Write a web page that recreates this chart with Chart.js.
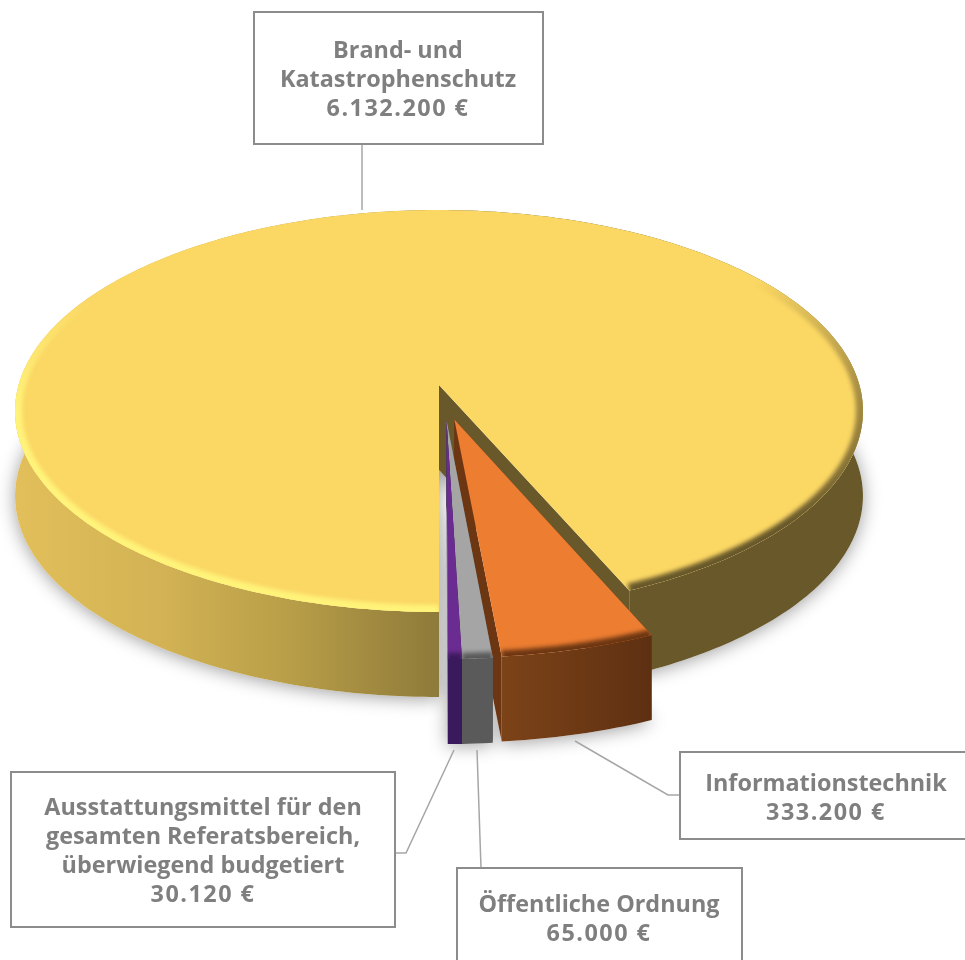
<!DOCTYPE html>
<html lang="de">
<head>
<meta charset="utf-8">
<title>Budget</title>
<script src="https://cdn.jsdelivr.net/npm/chart.js@4"></script>
<style>
  html, body { margin: 0; padding: 0; background: #fff; }
  canvas { display: block; }
</style>
</head>
<body>
<canvas id="myChart" width="965" height="960"></canvas>
<script>
// Data
const categories = ['Brand- und Katastrophenschutz', 'Informationstechnik', 'Öffentliche Ordnung', 'Ausstattungsmittel für den gesamten Referatsbereich, überwiegend budgetiert'];
const budget = [6132200, 333200, 65000, 30120];
const labelLines = [
    ['Brand- und', 'Katastrophenschutz'],
    ['Informationstechnik'],
    ['Öffentliche Ordnung'],
    ['Ausstattungsmittel für den', 'gesamten Referatsbereich,', 'überwiegend budgetiert']
];

// Look of the slices
const topColors = ['#fbd764', '#ec7d31', '#a5a5a5', '#6b2c91'];
const wallColors = ['#68582a', '#6c3612', '#636363', '#3f1c5e'];
const explode = [0, 74, 74, 74];
const sideShift = [0, -0.008, 0.007, 0.015];

// Label boxes and their leader lines
const boxes = [
    { x: 254, y: 12, w: 289, h: 132, cx: 398, first: 58, line: [[362, 144], [362, 210]] },
    { x: 680, y: 752, w: 295, h: 87, cx: 826, first: 791, line: [[575, 741], [668, 795], [680, 795]] },
    { x: 457, y: 868, w: 285, h: 110, cx: 599, first: 912, line: [[477, 750], [481, 868]] },
    { x: 11, y: 772, w: 384, h: 155, cx: 203, first: 815, line: [[454, 750], [406, 853], [395, 853]] }
];

// Tilted disc with a little perspective: u to the right, v towards the viewer
const cx = 439, cy = 385, discR = 420.4, tiltA = 197.6, persp = 0.1294, depth = 85;

function project(u, v, z) {
    const k = 1 - persp * v;
    return { x: cx + discR * u / k, y: cy + tiltA * v / k + (z || 0) };
}

// apex and rim of one arc element, on the disc
function sliceGeometry(el, i) {
    const mid = (el.startAngle + el.endAngle) / 2;
    const off = el.options.offset / discR;
    const ox = off * Math.cos(mid) + sideShift[i];
    const oy = off * Math.sin(mid);
    const steps = Math.max(4, Math.ceil((el.endAngle - el.startAngle) * 60));
    const rim = [];
    for (let s = 0; s <= steps; s++) {
        const a = el.startAngle + (el.endAngle - el.startAngle) * s / steps;
        rim.push({ u: ox + Math.cos(a), v: oy + Math.sin(a) });
    }
    return { apex: { u: ox, v: oy }, rim: rim };
}

function tracePoly(ctx, pts, open) {
    ctx.beginPath();
    pts.forEach((p, n) => n ? ctx.lineTo(p.x, p.y) : ctx.moveTo(p.x, p.y));
    if (!open) ctx.closePath();
}

function facePoints(g, z) {
    return [project(g.apex.u, g.apex.v, z)].concat(g.rim.map(p => project(p.u, p.v, z)));
}

function sideFill(ctx, i) {
    if (i === 0) {
        const grad = ctx.createLinearGradient(14, 0, 439, 0);
        grad.addColorStop(0, '#e2bf5a');
        grad.addColorStop(0.35, '#d2b254');
        grad.addColorStop(0.65, '#b89e48');
        grad.addColorStop(0.999, '#8e7a3a');
        grad.addColorStop(1, wallColors[0]);
        return grad;
    }
    if (i === 1) {
        const grad = ctx.createLinearGradient(500, 0, 650, 0);
        grad.addColorStop(0, '#7d4318');
        grad.addColorStop(1, '#5e3012');
        return grad;
    }
    return i === 2 ? '#5a5a5a' : '#3a1a5c';
}

// bevel colour round the rim: light on the left of the big slice, dark on its right
function bevelStyle(ctx, i) {
    if (i === 1) return '#6c3612';
    if (i === 2) return '#5a5a5a';
    if (i === 3) return '#3a1a5c';
    const grad = ctx.createConicGradient(0, cx, cy);
    grad.addColorStop(0, 'rgba(104,88,42,0.55)');
    grad.addColorStop(0.06, 'rgba(104,88,42,1)');
    grad.addColorStop(0.2499, 'rgba(104,88,42,1)');
    grad.addColorStop(0.25, 'rgba(255,243,122,1)');
    grad.addColorStop(0.49, 'rgba(255,243,122,1)');
    grad.addColorStop(0.54, 'rgba(255,243,122,0)');
    grad.addColorStop(0.95, 'rgba(104,88,42,0)');
    grad.addColorStop(1, 'rgba(104,88,42,0.55)');
    return grad;
}

function drawSlice(ctx, g, i) {
    const top = facePoints(g, 0);
    const apexTop = project(g.apex.u, g.apex.v, 0);
    const apexLow = project(g.apex.u, g.apex.v, depth);

    // cut walls
    ctx.fillStyle = wallColors[i];
    [g.rim[0], g.rim[g.rim.length - 1]].forEach(r => {
        tracePoly(ctx, [apexTop, project(r.u, r.v, 0), project(r.u, r.v, depth), apexLow]);
        ctx.fill();
    });

    // outer side
    const upper = g.rim.map(p => project(p.u, p.v, 0));
    const lower = g.rim.map(p => project(p.u, p.v, depth)).reverse();
    ctx.fillStyle = sideFill(ctx, i);
    tracePoly(ctx, upper.concat(lower));
    ctx.fill();

    // top face
    ctx.fillStyle = topColors[i];
    tracePoly(ctx, top);
    ctx.fill();

    // rim bevel, clipped to the face
    ctx.save();
    tracePoly(ctx, top);
    ctx.clip();
    ctx.filter = 'blur(2px)';
    ctx.lineWidth = i === 0 ? 14 : 12;
    ctx.lineCap = 'butt';
    ctx.strokeStyle = bevelStyle(ctx, i);
    tracePoly(ctx, upper, true);
    ctx.stroke();
    ctx.restore();
}

const pie3d = {
    id: 'pie3d',
    beforeDatasetsDraw(chart) {
        const ctx = chart.ctx;
        const geo = chart.getDatasetMeta(0).data.map(sliceGeometry);

        // soft shadow under the bottom of the slices
        ctx.save();
        ctx.shadowColor = 'rgba(0,0,0,0.38)';
        ctx.shadowBlur = 18;
        ctx.shadowOffsetY = 2;
        ctx.fillStyle = '#fff';
        geo.forEach(g => {
            tracePoly(ctx, facePoints(g, depth));
            ctx.fill();
        });
        ctx.restore();

        geo.forEach((g, i) => drawSlice(ctx, g, i));

        // label boxes
        ctx.save();
        boxes.forEach((box, i) => {
            ctx.strokeStyle = '#a6a6a6';
            ctx.lineWidth = 1.5;
            ctx.beginPath();
            box.line.forEach((p, n) => n ? ctx.lineTo(p[0], p[1]) : ctx.moveTo(p[0], p[1]));
            ctx.stroke();
            ctx.fillStyle = '#fff';
            ctx.fillRect(box.x, box.y, box.w, box.h);
            ctx.strokeStyle = '#8c8c8c';
            ctx.lineWidth = 2;
            ctx.strokeRect(box.x, box.y, box.w, box.h);
            ctx.fillStyle = '#7f7f7f';
            ctx.font = 'bold 23.4px "Open Sans"';
            ctx.textAlign = 'center';
            ctx.textBaseline = 'alphabetic';
            const lines = labelLines[i];
            lines.forEach((text, n) => {
                ctx.letterSpacing = '0px';
                ctx.fillText(text, box.cx, box.first + n * 29);
            });
            // the amounts run wider than the names
            ctx.letterSpacing = '1.5px';
            ctx.fillText(budget[i].toLocaleString('de-DE') + ' €', box.cx, box.first + lines.length * 29);
            ctx.letterSpacing = '0px';
        });
        ctx.restore();
        return false;
    }
};

const chartContent = new Chart(document.getElementById('myChart'), {
    type: 'pie',
    data: {
        labels: categories,
        datasets: [{ data: budget, backgroundColor: topColors, offset: explode, borderWidth: 0 }]
    },
    options: {
        responsive: false,
        animation: false,
        rotation: 180,
        plugins: { legend: { display: false }, tooltip: { enabled: false } }
    },
    plugins: [pie3d]
});
</script>
</body>
</html>
